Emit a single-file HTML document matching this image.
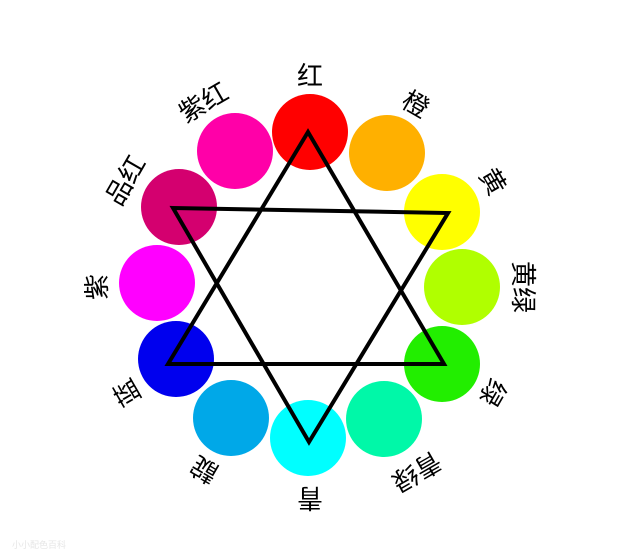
<!DOCTYPE html>
<html><head><meta charset="utf-8"><style>html,body{margin:0;padding:0;background:#fff;}svg{display:block}</style></head>
<body>
<svg width="640" height="560" viewBox="0 0 640 560" xmlns="http://www.w3.org/2000/svg">
<rect width="640" height="560" fill="#fff"/>
<g>
<circle cx="310" cy="132" r="38" fill="#ff0000"/>
<circle cx="387" cy="153" r="38" fill="#ffb000"/>
<circle cx="442" cy="212" r="38" fill="#ffff00"/>
<circle cx="462" cy="287" r="38" fill="#b0ff00"/>
<circle cx="442" cy="364" r="38" fill="#22ee00"/>
<circle cx="384" cy="419" r="38" fill="#00f8a8"/>
<circle cx="308" cy="438" r="38" fill="#00ffff"/>
<circle cx="231" cy="418" r="38" fill="#00a8e8"/>
<circle cx="176" cy="359" r="38" fill="#0000ee"/>
<circle cx="157" cy="283" r="38" fill="#ff00ff"/>
<circle cx="179" cy="207" r="38" fill="#d4006f"/>
<circle cx="235" cy="151" r="38" fill="#ff00a8"/>
</g>
<polygon points="308,132 168,364 444,364" fill="none" stroke="#000" stroke-width="4" stroke-linejoin="miter"/>
<polygon points="173,208 448,213 309,442" fill="none" stroke="#000" stroke-width="4" stroke-linejoin="miter"/>
<g font-family="'Liberation Sans','Noto Sans CJK SC',sans-serif" font-size="26" fill="#000" text-anchor="middle" dominant-baseline="central">
<text transform="translate(310,287) rotate(0) translate(0,-211)">红</text>
<text transform="translate(310,287) rotate(30) translate(0,-211)">橙</text>
<text transform="translate(310,287) rotate(60) translate(0,-211)">黄</text>
<text transform="translate(310,287) rotate(90) translate(0,-213)">黄绿</text>
<text transform="translate(310,287) rotate(120) translate(0,-211)">绿</text>
<text transform="translate(310,287) rotate(150) translate(0,-213)">青绿</text>
<text transform="translate(310,287) rotate(180) translate(0,-211)">青</text>
<text transform="translate(310,287) rotate(210) translate(0,-211)">靛</text>
<text transform="translate(310,287) rotate(240) translate(0,-211)">蓝</text>
<text transform="translate(310,287) rotate(270) translate(0,-213)">紫</text>
<text transform="translate(310,287) rotate(300) translate(0,-213)">品红</text>
<text transform="translate(310,287) rotate(330) translate(0,-213)">紫红</text>
</g>
<text x="12" y="548" font-family="'Liberation Sans','Noto Sans CJK SC',sans-serif" font-size="9" fill="#e6e6e6">小小配色百科</text>
</svg>
</body></html>
